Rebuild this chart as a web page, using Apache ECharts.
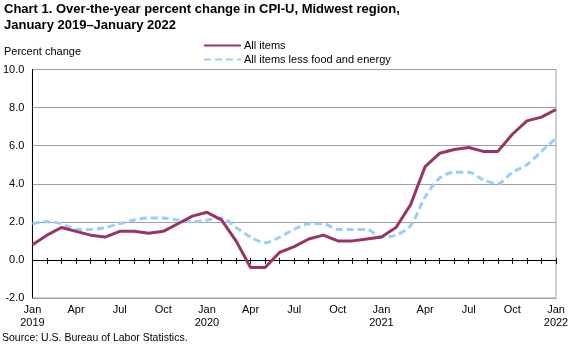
<!DOCTYPE html>
<html>
<head>
<meta charset="utf-8">
<script src="https://cdn.jsdelivr.net/npm/echarts@6/dist/echarts.min.js"></script>
<style>
html,body{margin:0;padding:0;background:#fff;}
#c{width:576px;height:347px;}
</style>
</head>
<body>
<div id="c"></div>
<script>
const months = ['Jan','Feb','Mar','Apr','May','Jun','Jul','Aug','Sep','Oct','Nov','Dec'];
const categories = [];
for (let y = 2019; y <= 2022; y++) {
  for (let m = 0; m < 12; m++) {
    if (y === 2022 && m > 0) break;
    categories.push(months[m] + ' ' + y);
  }
}
const allItems = [0.8,1.3,1.7,1.5,1.3,1.2,1.5,1.5,1.4,1.5,1.9,2.3,
                  2.5,2.1,1.0,-0.4,-0.4,0.4,0.7,1.1,1.3,1.0,1.0,1.1,
                  1.2,1.7,2.9,4.9,5.6,5.8,5.9,5.7,5.7,6.6,7.3,7.5,
                  7.9];
const lessFoodEnergy = [1.9,2.0,1.9,1.6,1.6,1.7,1.9,2.1,2.2,2.2,2.1,2.0,
                        2.1,2.2,1.7,1.2,0.9,1.2,1.6,1.9,1.9,1.6,1.6,1.6,
                        1.2,1.3,1.8,3.3,4.3,4.6,4.6,4.2,4.0,4.6,5.0,5.7,
                        6.4];
const yTicks = [-2,0,2,4,6,8,10];
const titleText = 'Chart 1. Over-the-year percent change in CPI-U, Midwest region,\nJanuary 2019\u2013January 2022';
const yAxisTitle = 'Percent change';
const sourceText = 'Source: U.S. Bureau of Labor Statistics.';
const seriesNames = ['All items', 'All items less food and energy'];

const font = 'Arial, "Liberation Sans", sans-serif';
const chart = echarts.init(document.getElementById('c'));
const labelFmt = function (v) {
  const p = v.split(' ');
  return p[0] === 'Jan' ? p[0] + '\n' + p[1] : p[0];
};
chart.setOption({
  animation: false,
  textStyle: {fontFamily: font},
  title: [
    {text: titleText, left: 4, top: 1, padding: 0,
     textStyle: {fontSize: 13, fontWeight: 'bold', color: '#000', lineHeight: 16, fontFamily: font}},
    {text: yAxisTitle, left: 4, top: 46, padding: 0,
     textStyle: {fontSize: 11, fontWeight: 'normal', color: '#000', fontFamily: font}},
    {text: sourceText, left: 2, top: 333, padding: 0,
     textStyle: {fontSize: 10.5, fontWeight: 'normal', color: '#000', fontFamily: font}}
  ],
  legend: {
    orient: 'vertical', left: 198, top: 35, itemGap: 3,
    itemWidth: 37, itemHeight: 12,
    itemStyle: {opacity: 0},
    textStyle: {fontSize: 11, color: '#000', fontFamily: font, padding: [0,0,0,-2]},
    data: seriesNames
  },
  grid: {left: 32, right: 20, top: 69.5, bottom: 49,
         show: true, borderColor: '#a0a0a0', borderWidth: 1},
  xAxis: [
    {type: 'category', data: categories, boundaryGap: false, position: 'bottom',
     axisLine: {onZero: false, lineStyle: {color: '#a0a0a0'}},
     axisTick: {show: false},
     axisLabel: {interval: 2, formatter: labelFmt, color: '#000', fontSize: 11,
                 lineHeight: 13, margin: 5, fontFamily: font},
     splitLine: {show: false}},
    {type: 'category', data: categories, boundaryGap: false, position: 'bottom',
     axisLine: {onZero: true, onZeroAxisIndex: 0, lineStyle: {color: '#000', width: 1}},
     axisTick: {show: true, interval: 0, length: 4, lineStyle: {color: '#000'}},
     axisLabel: {show: false}, splitLine: {show: false}},
    {type: 'category', data: categories, boundaryGap: false, position: 'top',
     axisLine: {onZero: true, onZeroAxisIndex: 0, lineStyle: {color: '#000', width: 1}},
     axisTick: {show: true, interval: 0, length: 2, lineStyle: {color: '#000'}},
     axisLabel: {show: false}, splitLine: {show: false}}
  ],
  yAxis: {
    type: 'value', min: -2, max: 10, interval: 2,
    axisLine: {show: true, lineStyle: {color: '#000'}},
    axisTick: {show: false},
    axisLabel: {formatter: v => v.toFixed(1), color: '#000', fontSize: 11, margin: 8, fontFamily: font},
    splitLine: {show: true, lineStyle: {color: '#a0a0a0', width: 1}}
  },
  series: [
    {name: seriesNames[0], type: 'line', data: allItems, symbol: 'none', z: 5,
     lineStyle: {color: '#993366', width: 3}, itemStyle: {color: '#993366'}},
    {name: seriesNames[1], type: 'line', data: lessFoodEnergy, symbol: 'none', z: 4,
     smooth: 0.3,
     lineStyle: {color: '#99ccff', width: 3, type: [7, 4]}, itemStyle: {color: '#99ccff'}}
  ]
});
</script>
</body>
</html>
